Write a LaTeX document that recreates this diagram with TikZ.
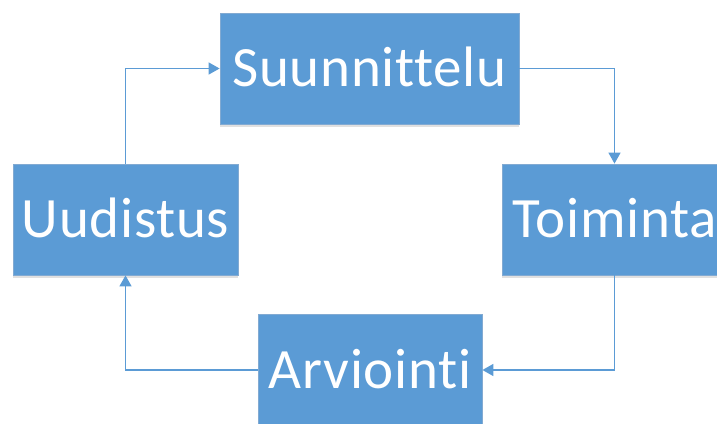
\documentclass[tikz,border=0pt]{standalone}
\usepackage{fontspec}
\setmainfont{Carlito}[RawFeature={-liga;-clig;-dlig}, LetterSpace=1.2]
\usetikzlibrary{arrows.meta,shadows}
\definecolor{officeblue}{RGB}{91,155,213}
\definecolor{boxedge}{RGB}{130,170,210}
\begin{document}
\begin{tikzpicture}[x=1pt,y=-1pt,
  cyclebox/.style={rectangle, fill=officeblue, draw=boxedge, line width=0.8pt,
    text=white, inner sep=0pt, minimum height=111pt,
    font=\fontsize{57}{60}\selectfont, text height=36.7pt, text depth=0pt,
    drop shadow={shadow xshift=0pt, shadow yshift=-3pt, opacity=0.12, fill=black}},
  flow/.style={draw=officeblue, line width=1.5pt, -{Triangle[length=11pt,width=12pt]}}]
\useasboundingbox (0,0) rectangle (717,423);
\clip (0,0) rectangle (717,423);
\node[cyclebox, minimum width=299pt] (S) at (369.5,68.5) {Suunnittelu};
\node[cyclebox, minimum width=225pt] (T) at (614.5,219.5) {Toiminta};
\node[cyclebox, minimum width=225pt] (U) at (125.5,219.5) {Uudistus};
\node[cyclebox, minimum width=224pt] (A) at (370,370) {Arviointi};
\draw[flow] (U.north) |- (S.west);
\draw[flow] (S.east) -| (T.north);
\draw[flow] (T.south) |- (A.east);
\draw[flow] (A.west) -| (U.south);
\end{tikzpicture}
\end{document}
